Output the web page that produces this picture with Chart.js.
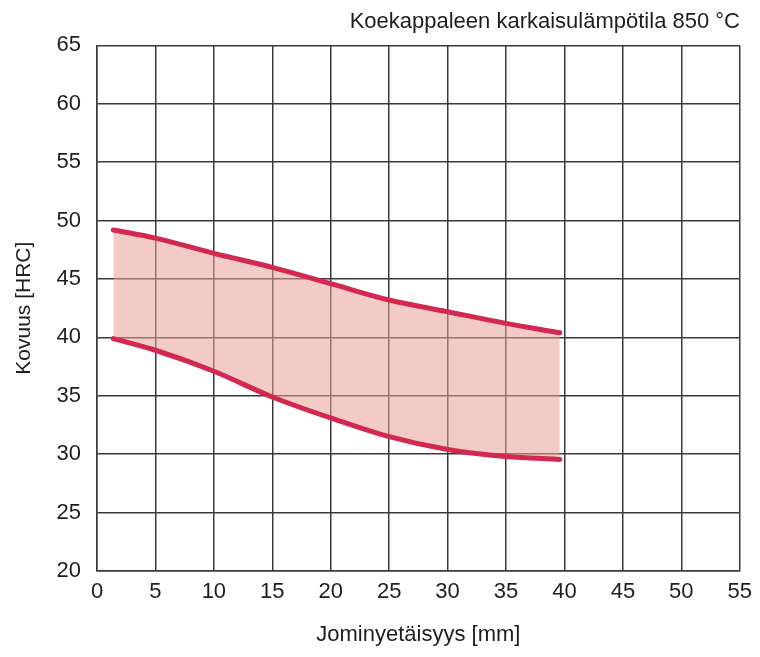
<!DOCTYPE html>
<html>
<head>
<meta charset="utf-8">
<script src="https://cdn.jsdelivr.net/npm/chart.js@4"></script>
<style>
  html, body { margin: 0; padding: 0; background: #fff; }
  #wrap { width: 760px; height: 657px; }
</style>
</head>
<body>
<div id="wrap"><canvas id="myChart" width="760" height="657"></canvas></div>
<script>
const ctx = document.getElementById("myChart").getContext("2d");

// luettu kuvasta
const distances = [1.4, 5, 10, 15, 20, 25, 30, 35, 39.6];
const upperHRC = [49.2, 48.5, 47.2, 46.0, 44.6, 43.2, 42.2, 41.2, 40.4];
const lowerHRC = [39.9, 38.9, 37.1, 34.9, 33.1, 31.5, 30.4, 29.8, 29.55];
const xTicks = [0, 5, 10, 15, 20, 25, 30, 35, 40, 45, 50, 55];
const yTicks = [20, 25, 30, 35, 40, 45, 50, 55, 60, 65];

const fontFamily = "'Liberation Sans', Arial, sans-serif";
const lineColor = "#d3284f";
const gridColor = "#3a3a3a";
const textColor = "#1e1e1e";

const toPoints = (ys) => distances.map((x, i) => ({ x, y: ys[i] }));

new Chart(ctx, {
  type: "line",
  data: {
    datasets: [
      {
        data: toPoints(upperHRC),
        borderColor: lineColor,
        borderWidth: 5,
        backgroundColor: "rgba(232, 160, 152, 0.55)",
        fill: "+1",
        cubicInterpolationMode: "monotone",
        pointRadius: 0,
        borderCapStyle: "round",
      },
      {
        data: toPoints(lowerHRC),
        borderColor: lineColor,
        borderWidth: 5,
        fill: false,
        cubicInterpolationMode: "monotone",
        pointRadius: 0,
        borderCapStyle: "round",
      },
    ],
  },
  options: {
    responsive: false,
    animation: false,
    layout: { padding: { left: 0, right: 20, top: 0, bottom: 0 } },
    scales: {
      x: {
        type: "linear",
        min: 0,
        max: 55,
        afterBuildTicks(scale) {
          scale.ticks = xTicks.map((v) => ({ value: v }));
        },
        afterFit(scale) {
          scale.height = 86;
        },
        grid: { color: gridColor, lineWidth: 1.5, drawTicks: false },
        border: { color: gridColor, width: 1.5 },
        ticks: {
          color: textColor,
          padding: 8,
          maxRotation: 0,
          font: { family: fontFamily, size: 22 },
        },
        title: {
          display: true,
          text: "Jominyetäisyys [mm]",
          color: textColor,
          padding: { top: 0, bottom: 9 },
          font: { family: fontFamily, size: 22 },
        },
      },
      y: {
        type: "linear",
        min: 20,
        max: 65,
        afterBuildTicks(scale) {
          scale.ticks = yTicks.map((v) => ({ value: v }));
        },
        afterFit(scale) {
          scale.width = 97;
        },
        grid: { color: gridColor, lineWidth: 1.5, drawTicks: false },
        border: { color: gridColor, width: 1.5 },
        ticks: {
          color: textColor,
          padding: 16,
          font: { family: fontFamily, size: 22 },
        },
        title: {
          display: true,
          text: "Kovuus [HRC]",
          color: textColor,
          padding: { top: 12, bottom: 0 },
          font: { family: fontFamily, size: 21 },
        },
      },
    },
    plugins: {
      legend: { display: false },
      tooltip: { enabled: false },
      filler: { drawTime: "beforeDatasetsDraw" },
      title: {
        display: true,
        text: "Koekappaleen karkaisulämpötila 850 °C",
        align: "end",
        color: textColor,
        padding: { top: 9, bottom: 10 },
        font: { family: fontFamily, size: 22, weight: "normal" },
      },
    },
  },
});
</script>
</body>
</html>
